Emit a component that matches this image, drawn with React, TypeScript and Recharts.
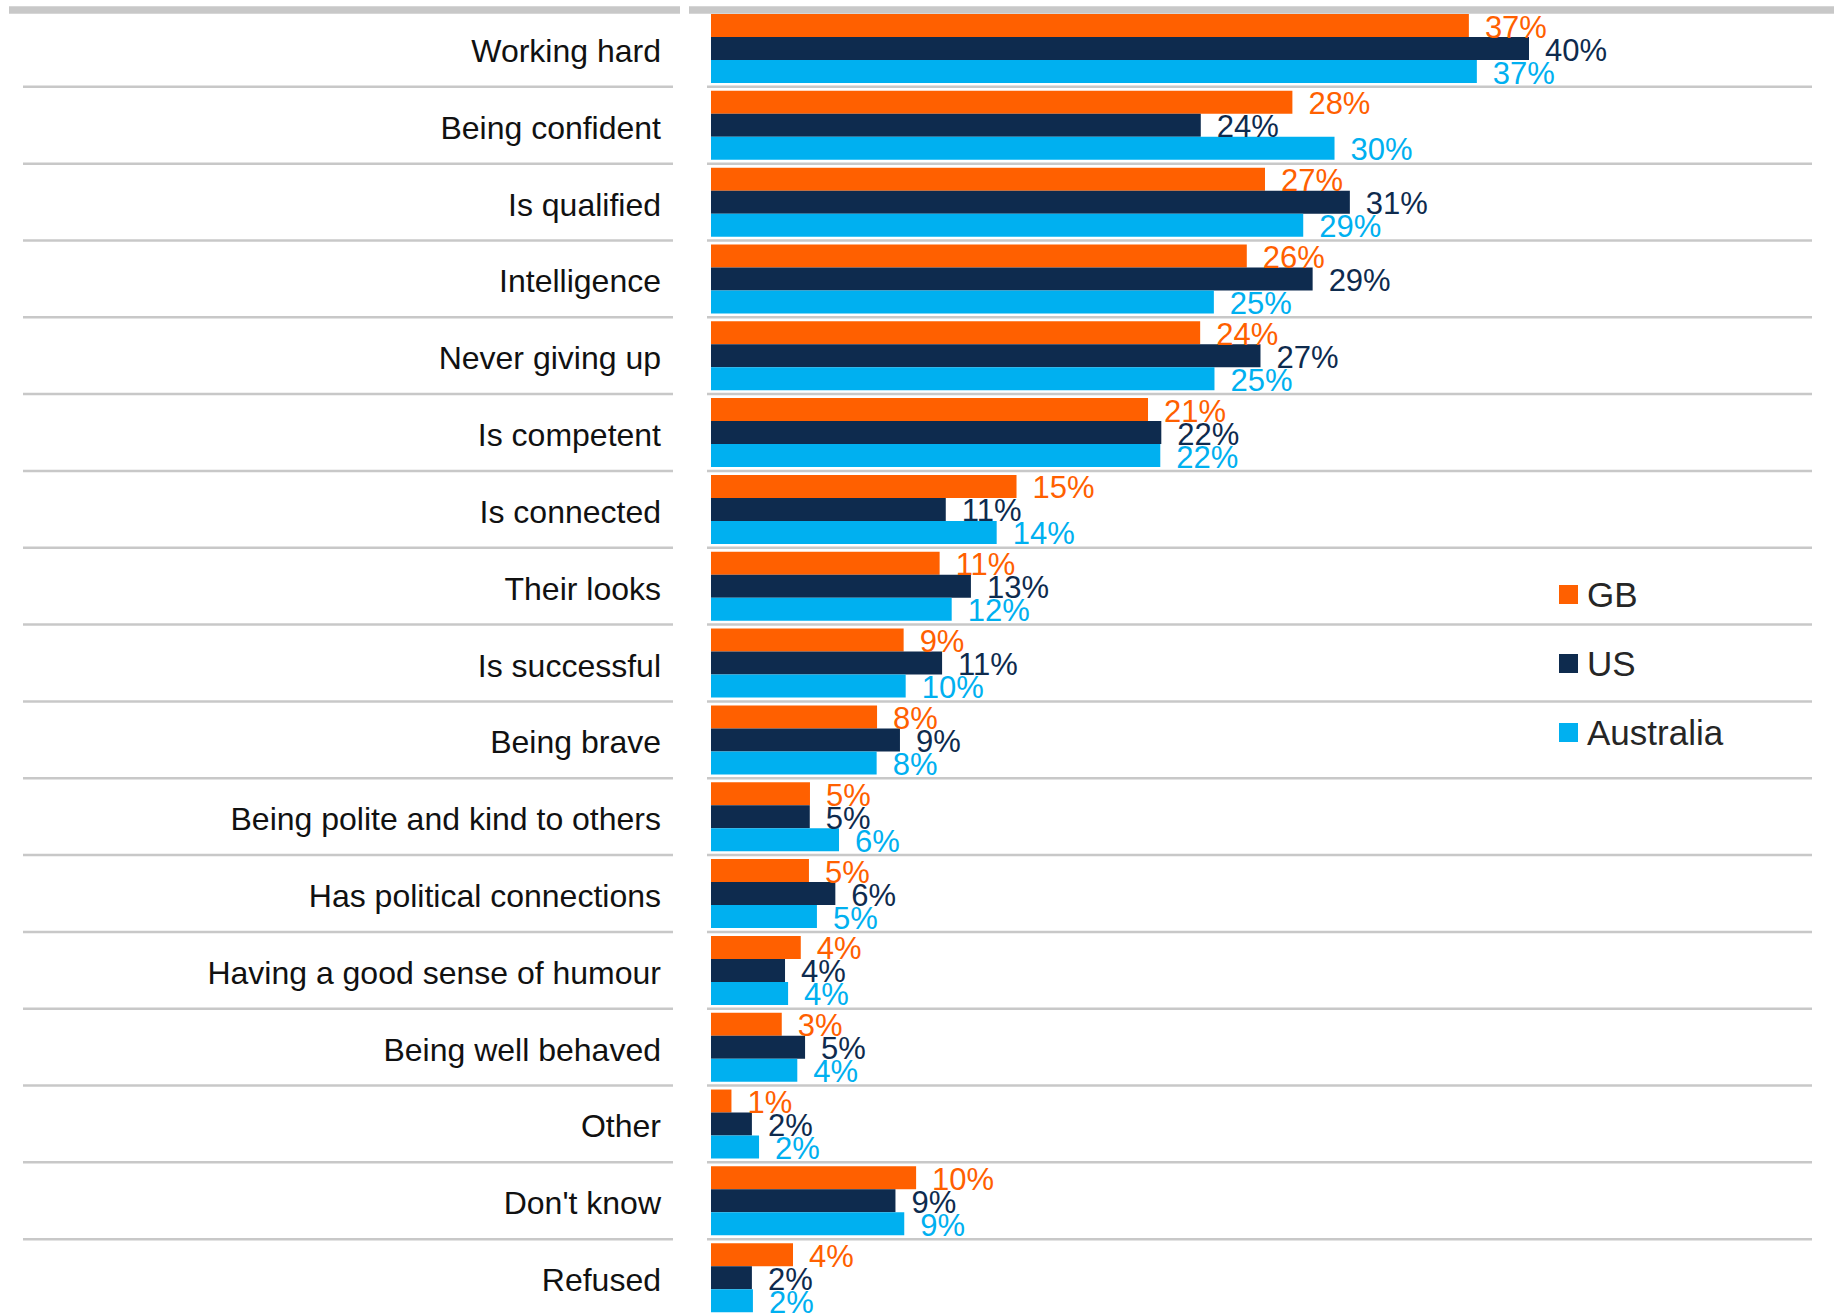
import React from 'react';
import { BarChart, Bar, XAxis, YAxis, Legend, LabelList } from 'recharts';

const categories = [
  'Working hard',
  'Being confident',
  'Is qualified',
  'Intelligence',
  'Never giving up',
  'Is competent',
  'Is connected',
  'Their looks',
  'Is successful',
  'Being brave',
  'Being polite and kind to others',
  'Has political connections',
  'Having a good sense of humour',
  'Being well behaved',
  'Other',
  "Don't know",
  'Refused',
];

const gbValues = [37.06, 28.43, 27.09, 26.2, 23.92, 21.37, 14.94, 11.18, 9.42, 8.12, 4.84, 4.79, 4.39, 3.46, 1.0, 10.03, 4.01];
const usValues = [40.0, 23.95, 31.24, 29.42, 26.87, 22.02, 11.48, 12.71, 11.3, 9.24, 4.83, 6.08, 3.62, 4.6, 2.0, 9.02, 2.0];
const auValues = [37.45, 30.49, 28.96, 24.59, 24.62, 21.97, 13.97, 11.77, 9.52, 8.1, 6.26, 5.18, 3.77, 4.22, 2.35, 9.45, 2.05];

const seriesNames = ['GB', 'US', 'Australia'];

const data = categories.map((name, i) => ({
  name,
  gb: gbValues[i],
  us: usValues[i],
  au: auValues[i],
}));

const COLORS = { gb: '#FF6000', us: '#0E2B4E', au: '#00B0F0' };
const GRID = '#C8C8C8';
const FONT = '"Liberation Sans", Arial, sans-serif';

const CHART_W = 1834;
const CHART_H = 1320;
const MARGIN = { top: 10, right: 100.5, bottom: 4, left: 0 };
const BAND = (CHART_H - MARGIN.top - MARGIN.bottom) / categories.length;

const pct = (v: number) => `${Math.round(v)}%`;

function CategoryTick(props: any) {
  const { y, payload } = props;
  const half = BAND / 2;
  const below = y + half;
  const above = y - half;
  return (
    <g>
      {payload.index === 0 && (
        <g>
          <line x1={9} x2={680} y1={above} y2={above} stroke={GRID} strokeWidth={7.5} />
          <line x1={689} x2={1834} y1={above} y2={above} stroke={GRID} strokeWidth={7.5} />
        </g>
      )}
      <text x={661} y={y + 13.5} textAnchor="end" fontSize={32} fill="#111" fontFamily={FONT}>
        {payload.value}
      </text>
      <line x1={23} x2={673} y1={below} y2={below} stroke={GRID} strokeWidth={2.5} />
      <line x1={707} x2={1812} y1={below} y2={below} stroke={GRID} strokeWidth={2.5} />
    </g>
  );
}

function LegendContent(props: any) {
  const { payload = [] } = props;
  const items = [...payload].sort(
    (a: any, b: any) => seriesNames.indexOf(a.value) - seriesNames.indexOf(b.value)
  );
  return (
    <div style={{ fontFamily: FONT }}>
      {items.map((entry: any) => (
        <div key={entry.value} style={{ display: 'flex', alignItems: 'center', height: 69 }}>
          <span style={{ width: 19, height: 19, background: entry.color, display: 'inline-block', marginRight: 9 }} />
          <span style={{ fontSize: 35, color: '#262626', lineHeight: 1 }}>{entry.value}</span>
        </div>
      ))}
    </div>
  );
}

export default function App() {
  return (
    <div style={{ position: 'absolute', left: 0, top: 0, width: 1834, height: 1314, overflow: 'hidden', background: '#fff' }}>
      <BarChart
        width={CHART_W}
        height={CHART_H}
        data={data}
        layout="vertical"
        margin={MARGIN}
        barSize={23}
        barGap={0}
      >
        <XAxis type="number" domain={[0, 50]} hide />
        <YAxis
          type="category"
          dataKey="name"
          width={711}
          axisLine={false}
          tickLine={false}
          interval={0}
          tick={<CategoryTick />}
        />
        <Legend
          layout="vertical"
          align="center"
          verticalAlign="middle"
          content={<LegendContent />}
          wrapperStyle={{ left: 1559, top: 560, width: 260, height: 210 }}
        />
        <Bar dataKey="gb" name={seriesNames[0]} fill={COLORS.gb} isAnimationActive={false}>
          <LabelList dataKey="gb" position="right" offset={16} formatter={pct} fill={COLORS.gb} fontSize={31} fontFamily={FONT} dy={1} />
        </Bar>
        <Bar dataKey="us" name={seriesNames[1]} fill={COLORS.us} isAnimationActive={false}>
          <LabelList dataKey="us" position="right" offset={16} formatter={pct} fill={COLORS.us} fontSize={31} fontFamily={FONT} dy={1} />
        </Bar>
        <Bar dataKey="au" name={seriesNames[2]} fill={COLORS.au} isAnimationActive={false}>
          <LabelList dataKey="au" position="right" offset={16} formatter={pct} fill={COLORS.au} fontSize={31} fontFamily={FONT} dy={1} />
        </Bar>
      </BarChart>
    </div>
  );
}
